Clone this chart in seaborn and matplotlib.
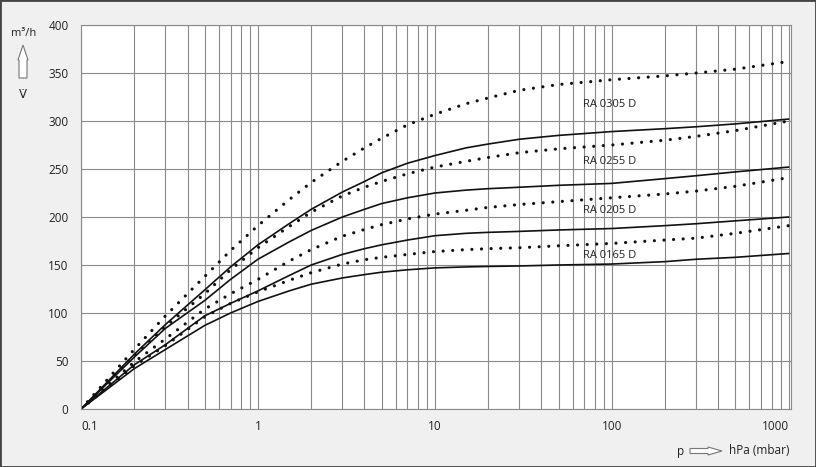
import numpy as np
import pandas as pd
import matplotlib
matplotlib.use("Agg")
import matplotlib.pyplot as plt
import matplotlib.patches as mpatches
import seaborn as sns

sns.set_style("white")
plt.rcParams['font.family'] = ['Open Sans', 'DejaVu Sans']

# Pressure points (hPa)
pressure = [0.1, 0.2, 0.3, 0.5, 0.7, 1, 1.5, 2, 3, 4, 5, 7, 10, 15, 20, 30, 50, 100, 200, 300, 500, 1000]

# Solid curves (50 Hz)
ra0165_solid = [0, 42, 62, 87, 100, 112, 123, 130, 136.5, 140, 142.5, 145, 147, 148, 148.5, 149, 150, 151, 153.5, 156, 158, 162]
ra0205_solid = [0, 46, 67, 97, 110, 123, 139, 150, 161, 167, 171, 176, 180.5, 183, 184, 185, 186.5, 188, 191, 193, 196, 200]
ra0255_solid = [0, 54, 84, 113, 135, 156, 174, 186, 200, 208, 214, 220, 225, 228, 229.5, 231, 233, 235, 240, 243, 247, 252]
ra0305_solid = [0, 57, 88, 124, 148, 171, 193, 208, 226, 237, 246, 256, 264, 272, 276, 281, 285, 289, 292, 294, 297, 302]

# Dotted curves (60 Hz)
ra0165_dot = [0, 45, 66, 96, 110, 122, 134, 142, 151, 155.5, 158, 161, 164, 166, 167, 168, 170, 172.5, 176, 178, 183, 191]
ra0205_dot = [0, 49, 73, 104, 120, 135, 154, 166, 180, 187, 192, 198, 203, 207, 210, 213, 216, 220, 224, 227, 232, 241]
ra0255_dot = [0, 56, 86, 120, 145, 168, 190, 205, 222, 231, 237, 245, 252, 258, 262, 267, 271, 275, 280, 284, 290, 300]
ra0305_dot = [0, 62, 97, 138, 165, 191, 218, 236, 258, 272, 282, 296, 307, 318, 324, 332, 338, 343, 347, 350, 354, 362]

labels = ['RA 0305 D', 'RA 0255 D', 'RA 0205 D', 'RA 0165 D']
label_y = [316.7, 258.3, 206.3, 160.4]

solid_series = [ra0165_solid, ra0205_solid, ra0255_solid, ra0305_solid]
dot_series = [ra0165_dot, ra0205_dot, ra0255_dot, ra0305_dot]

fig = plt.figure(figsize=(8.16, 4.67), dpi=100)
fig.patch.set_facecolor('#f0f0f0')
ax = fig.add_axes([81/816, 58/467, 710/816, 384/467])
ax.set_facecolor('white')

for vals in solid_series:
    df = pd.DataFrame({'p': pressure, 'v': vals})
    sns.lineplot(data=df, x='p', y='v', ax=ax, color='#111111', linewidth=1.2)
for vals in dot_series:
    df = pd.DataFrame({'p': pressure, 'v': vals})
    sns.lineplot(data=df, x='p', y='v', ax=ax, color='#111111', linewidth=2.3,
                 linestyle=(0, (0.01, 3.0)), dash_capstyle='round')

ax.set_xscale('log')
ax.set_xlim(0.1, 1030)
ax.set_ylim(0, 400)

# grid: every 50 on y, every 1..9 per decade on x
ax.set_yticks(range(0, 401, 50))
minor = [m * 10.0**k for k in range(-1, 3) for m in range(2, 10)]
ax.set_xticks([0.1, 1, 10, 100, 1000])
ax.set_xticks(minor, minor=True)
ax.grid(True, which='both', color='#8a8a8a', linewidth=0.8)
ax.set_axisbelow(True)
ax.tick_params(which='both', length=0)
ax.tick_params(axis='y', pad=9, labelsize=8.5, colors='#222222')
ax.tick_params(axis='x', pad=8, labelsize=8.5, colors='#222222')
ax.set_xticklabels(['0.1', '1', '10', '100', '1000'])
ax.set_xticklabels([], minor=True)
xt = ax.get_xticklabels()
xt[0].set_ha('left')
xt[-1].set_ha('right')
ax.set_xlabel('')
ax.set_ylabel('')
for s in ax.spines.values():
    s.set_color('#8a8a8a')
    s.set_linewidth(0.8)

for lab, yy in zip(labels, label_y):
    ax.text(68.6, yy, lab, fontsize=8, va='center', ha='left', color='#222222')

# axis captions with outlined arrows
def fx(x):
    return x / 816

def fy(y):
    return 1 - y / 467

fig.text(fx(24), fy(33), 'm³/h', fontsize=8, ha='center', va='center', color='#222222')
fig.text(fx(23), fy(95), 'V\u0307', fontsize=8.5, ha='center', va='center', color='#222222',
         family=['DejaVu Sans'])
up = [(19, 78), (27, 78), (27, 60), (28, 60), (23, 45), (18, 60), (19, 60)]
fig.patches.append(mpatches.Polygon([(fx(a), fy(b)) for a, b in up], closed=True,
                                    facecolor='white', edgecolor='#777777', linewidth=0.8,
                                    transform=fig.transFigure))

fig.text(fx(681), fy(451), 'p', fontsize=8.5, ha='center', va='center', color='#222222')
right = [(690, 448.5), (708, 448.5), (708, 447), (722, 451), (708, 455), (708, 453.5), (690, 453.5)]
fig.patches.append(mpatches.Polygon([(fx(a), fy(b)) for a, b in right], closed=True,
                                    facecolor='white', edgecolor='#777777', linewidth=0.8,
                                    transform=fig.transFigure))
fig.text(fx(729), fy(451), 'hPa (mbar)', fontsize=8.5, ha='left', va='center', color='#222222')

# outer frame
fig.patches.append(mpatches.Rectangle((0, 0), 1, 1, transform=fig.transFigure,
                                      fill=False, edgecolor='#444444', linewidth=2))

fig.savefig('out.png', dpi=100, facecolor=fig.get_facecolor())
